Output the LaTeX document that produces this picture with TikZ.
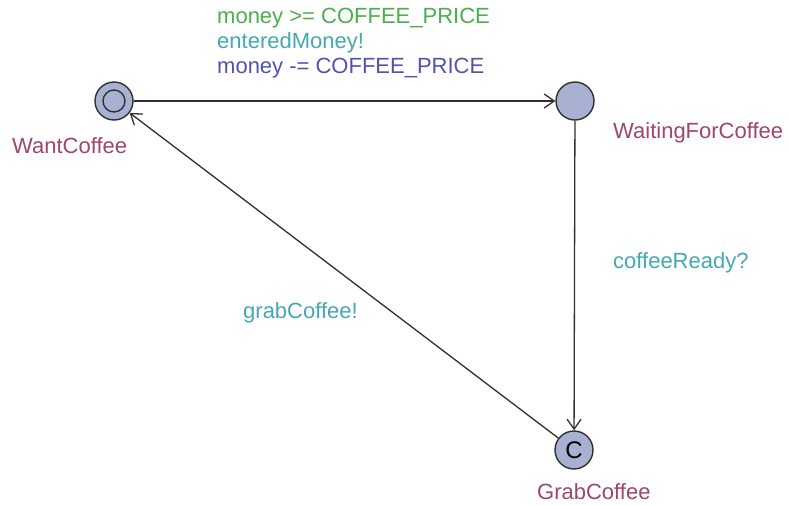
\documentclass[tikz,border=0pt]{standalone}
\usepackage{fontspec}
\setmainfont{Liberation Sans}
\usetikzlibrary{arrows.meta}
\definecolor{locfill}{HTML}{A9B1D3}
\definecolor{locname}{HTML}{A0456E}
\definecolor{guardcol}{HTML}{4CB04E}
\definecolor{synccol}{HTML}{45A9B3}
\definecolor{updcol}{HTML}{5252B3}
\definecolor{edgecol}{HTML}{303030}
\begin{document}
\begin{tikzpicture}[x=1pt,y=-1pt,
  loc/.style={circle,draw=edgecol,line width=1.4pt,fill=locfill,minimum size=38pt,inner sep=0pt},
  locname/.style={text=locname,font=\fontsize{22}{25}\selectfont,inner sep=0pt},
  lbl/.style={font=\fontsize{22}{25}\selectfont,inner sep=0pt,anchor=west,align=left},
  trans/.style={draw=edgecol,line width=1.3pt,-{Straight Barb[length=10pt,width=14pt,line width=1.3pt]}}]
  \useasboundingbox (0,0) rectangle (789,504);
  \fill[white] (0,0) rectangle (789,504);

  % locations
  \node[loc] (want) at (114,101) {};
  \draw[edgecol,line width=1.4pt] (want) circle[radius=11pt];
  \node[loc] (wait) at (575,101) {};
  \node[loc,font=\fontsize{24}{24}\selectfont] (grab) at (574,450) {C};

  % location names
  \node[locname,anchor=west] (nwant) at (12,146) {WantCoffee};
  \node[locname,anchor=west] (nwait) at (613,133) {WaitingForCoffee};
  \node[locname,anchor=west] (ngrab) at (537,492) {GrabCoffee};

  % transitions
  \draw[trans] (want) -- (wait);
  \draw[trans] (wait) -- (grab);
  \draw[trans] (grab) -- (want);

  % transition labels
  \node[lbl,text=guardcol] (g1) at (217,18) {money >= COFFEE\_PRICE};
  \node[lbl,text=synccol] (s1) at (217,43) {enteredMoney!};
  \node[lbl,text=updcol] (u1) at (217,68) {money -= COFFEE\_PRICE};
  \node[lbl,text=synccol] (s2) at (613,263) {coffeeReady?};
  \node[lbl,text=synccol] (s3) at (243,313) {grabCoffee!};
\end{tikzpicture}
\end{document}
